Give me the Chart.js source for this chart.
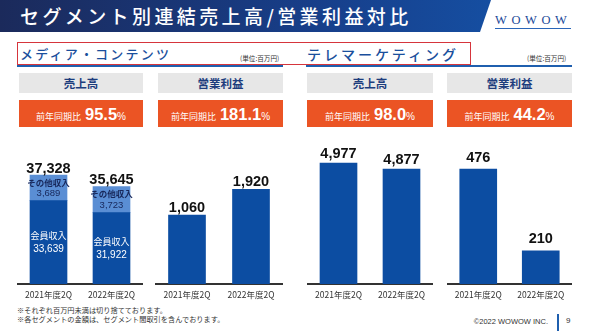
<!DOCTYPE html>
<html lang="ja">
<head>
<meta charset="utf-8">
<script src="https://cdn.jsdelivr.net/npm/chart.js@4.4.1/dist/chart.umd.min.js"></script>
<style>
  html, body { margin: 0; padding: 0; background: #fff; }
  .slide { position: relative; width: 590px; height: 331px; overflow: hidden; font-family: "Noto Sans CJK JP", sans-serif; }
  .abs { position: absolute; }
  .banner { left: 0; top: 0; width: 590px; height: 32px;
    background: linear-gradient(90deg, #1b2a5b 0%, #173f8b 55%, #1457ae 100%);
    clip-path: polygon(0 0, 491px 0, 480px 32px, 0 32px); }
  .title { left: 20px; top: 0; height: 32px; line-height: 32px; color: #fff; font-size: 19px; font-weight: 500; letter-spacing: 3.4px; white-space: nowrap; }
  .logo { left: 495px; top: 14px; font-family: "Liberation Serif", serif; font-size: 12.5px; letter-spacing: 4.6px; color: #1c4a98; line-height: 13px;
    border-bottom: 1px solid #2a66b8; padding-bottom: 1px; }
  .rule { top: 65px; height: 2px; width: 266px; background: #1f5fae; }
  .redbox { left: 17px; top: 42px; width: 452px; height: 21px; border: 1.5px solid #d6353c; }
  .segname { top: 44px; line-height: 20px; color: #1a4f9c; white-space: nowrap; font-weight: 500; }
  .unit { top: 53px; font-size: 6.6px; color: #333; white-space: nowrap; }
  .head { top: 73px; height: 20px; line-height: 20px; background: #e7e7e7; color: #1d3d7d; font-size: 11.5px; font-weight: 700; text-align: center; }
  .yoy { top: 100px; height: 27px; line-height: 27px; background: #eb5424; color: #fff; text-align: center; white-space: nowrap; }
  .yoy .lab { font-size: 9px; margin-right: 4px; }
  .yoy .num { font-family: "Liberation Sans", Arial, sans-serif; font-weight: 700; font-size: 16.5px; }
  .yoy .pct { font-family: "Liberation Sans", Arial, sans-serif; font-size: 10px; }
  .note { left: 17px; top: 306px; font-size: 7.2px; line-height: 9.4px; color: #333; white-space: nowrap; }
  .copy { right: 42px; top: 317px; font-family: "Liberation Sans", Arial, sans-serif; font-size: 7.5px; color: #333; }
  .bar { left: 557px; top: 314px; width: 1.5px; height: 17px; background: #1f5fae; }
  .page { left: 566px; top: 316px; font-family: "Liberation Sans", Arial, sans-serif; font-size: 8px; color: #333; }
  canvas { position: absolute; top: 130px; }
</style>
</head>
<body>
<div class="slide">
  <div class="abs banner"></div>
  <div class="abs title">セグメント別連結売上高/営業利益対比</div>
  <div class="abs logo">WOWOW</div>

  <div class="abs rule" style="left:17px"></div>
  <div class="abs rule" style="left:306px"></div>
  <div class="abs segname" style="left:20px; font-size:13px; letter-spacing:2.2px">メディア・コンテンツ</div>
  <div class="abs segname" style="left:307px; font-size:14px; letter-spacing:3px">テレマーケティング</div>
  <div class="abs unit" style="left:240px">(単位:百万円)</div>
  <div class="abs unit" style="left:527px">(単位:百万円)</div>
  <div class="abs redbox"></div>

  <div class="abs head" style="left:19px; width:124px">売上高</div>
  <div class="abs head" style="left:158px; width:125px">営業利益</div>
  <div class="abs head" style="left:307px; width:126px">売上高</div>
  <div class="abs head" style="left:447px; width:125px">営業利益</div>

  <div class="abs yoy" id="yoy0" style="left:19px; width:124px"></div>
  <div class="abs yoy" id="yoy1" style="left:158px; width:125px"></div>
  <div class="abs yoy" id="yoy2" style="left:307px; width:126px"></div>
  <div class="abs yoy" id="yoy3" style="left:447px; width:125px"></div>

  <canvas id="mediaSales" width="126" height="175" style="left:17px"></canvas>
  <canvas id="mediaProfit" width="128" height="175" style="left:155px"></canvas>
  <canvas id="teleSales" width="126" height="175" style="left:307px"></canvas>
  <canvas id="teleProfit" width="125" height="175" style="left:447px"></canvas>

  <div class="abs note">※それぞれ百万円未満は切り捨てております。<br>※各セグメントの金額は、セグメント間取引を含んでおります。</div>
  <div class="abs copy">©2022 WOWOW INC.</div>
  <div class="abs bar"></div>
  <div class="abs page">9</div>
</div>

<script>
// 百万円
const periods = ['2021年度2Q', '2022年度2Q'];
const mediaMember = [33639, 31922];
const mediaOther = [3689, 3723];
const mediaProfit = [1060, 1920];
const teleSales = [4977, 4877];
const teleProfit = [476, 210];
// 前年同期比 (%)
const yoyRates = [95.5, 181.1, 98.0, 44.2];

const BLUE = '#0c4da2';
const LIGHT = '#5a8ed4';

yoyRates.forEach((r, i) => {
  document.getElementById('yoy' + i).innerHTML =
    '<span class="lab">前年同期比</span><span class="num">' + r.toFixed(1) + '</span><span class="pct">%</span>';
});

const fmt = v => v.toLocaleString('en-US');

// totals above each bar, captions inside stacked segments
const valueLabels = {
  id: 'valueLabels',
  afterDatasetsDraw(chart, args, opts) {
    const ctx = chart.ctx;
    const sets = chart.data.datasets;
    const bottom = chart.chartArea.bottom;
    const tops = chart.getDatasetMeta(sets.length - 1).data;
    ctx.save();
    ctx.textAlign = 'center';
    ctx.textBaseline = 'alphabetic';
    ctx.fillStyle = '#111';
    ctx.font = 'bold 14.5px "Liberation Sans", Arial, sans-serif';
    tops.forEach((bar, i) => {
      const total = sets.reduce((s, d) => s + d.data[i], 0);
      ctx.fillText(fmt(total), bar.x, bar.y - opts.gap);
    });
    ctx.textBaseline = 'middle';
    sets.forEach((ds, di) => {
      if (!ds.caption) return;
      chart.getDatasetMeta(di).data.forEach((bar, i) => {
        const mid = (bar.y + Math.min(bar.base, bottom)) / 2;
        const half = ds.caption.spacing / 2;
        ctx.fillStyle = ds.caption.color;
        ctx.font = ds.caption.nameFont;
        ctx.fillText(ds.caption.name, bar.x, mid - half);
        ctx.font = ds.caption.valueFont;
        ctx.fillText(fmt(ds.data[i]), bar.x, mid + half);
      });
    });
    ctx.restore();
  }
};

function barChart(id, datasets, yMin, yMax, gap) {
  return new Chart(document.getElementById(id), {
    type: 'bar',
    data: { labels: periods, datasets },
    options: {
      responsive: false,
      animation: false,
      layout: { padding: { top: 10, bottom: 0, left: 0, right: 0 } },
      datasets: { bar: { barThickness: 37, borderWidth: 0 } },
      plugins: {
        legend: { display: false },
        tooltip: { enabled: false },
        valueLabels: { gap }
      },
      scales: {
        x: {
          stacked: true,
          grid: { display: false, drawTicks: false },
          border: { display: true, color: '#333', width: 2 },
          ticks: { padding: 6, color: '#333', font: { family: '"Noto Sans CJK JP", sans-serif', size: 8.5 } },
          afterFit(scale) { scale.height = 21; }
        },
        y: { stacked: true, display: false, min: yMin, max: yMax }
      }
    },
    plugins: [valueLabels]
  });
}

barChart('mediaSales', [
  {
    data: mediaMember, backgroundColor: BLUE, base: 21654,
    caption: { name: '会員収入', color: '#fff', spacing: 14,
      nameFont: '9px "Noto Sans CJK JP", sans-serif', valueFont: '10px "Liberation Sans", Arial, sans-serif' }
  },
  {
    data: mediaOther, backgroundColor: LIGHT,
    caption: { name: 'その他収入', color: '#17275a', spacing: 11,
      nameFont: 'bold 8.5px "Noto Sans CJK JP", sans-serif', valueFont: '9.5px "Liberation Sans", Arial, sans-serif' }
  }
], 21654, 42361, 2.5);

barChart('mediaProfit', [{ data: mediaProfit, backgroundColor: BLUE, base: -1249 }], -1249, 3569, 3);
barChart('teleSales', [{ data: teleSales, backgroundColor: BLUE, base: 2960 }], 2960, 5360, 5);
barChart('teleProfit', [{ data: teleProfit, backgroundColor: BLUE, base: 101.6 }], 101.6, 570.5, 7.5);
</script>
</body>
</html>
